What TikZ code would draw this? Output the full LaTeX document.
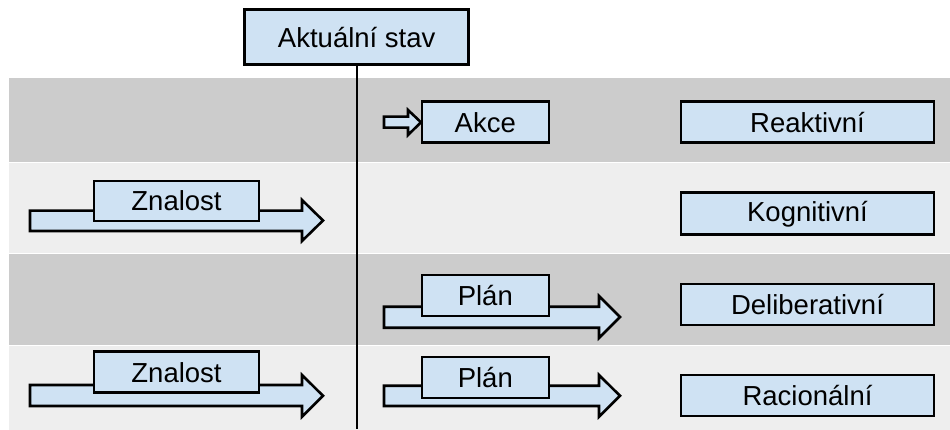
\documentclass[tikz,border=0pt]{standalone}
\usepackage{fontspec}
\setmainfont{Liberation Sans}
\definecolor{bandgray}{HTML}{CCCCCC}
\definecolor{bandlight}{HTML}{EEEEEE}
\definecolor{boxblue}{HTML}{CFE2F3}
\begin{document}
\begin{tikzpicture}[x=1pt,y=-1pt,
  lbl/.style={draw=black,line width=2.6pt,fill=boxblue,inner sep=0pt,
    font=\fontsize{27.5}{32}\selectfont,text=black},
  fatarrow/.style={draw=black,line width=2.6pt,fill=boxblue,line join=miter},
  band/.style={draw=white,line width=1pt}]
\useasboundingbox (0,0) rectangle (950,430);
% bands
\filldraw[band,fill=bandgray]  (8,78)  rectangle (951,163);
\filldraw[band,fill=bandlight] (8,163) rectangle (951,254);
\filldraw[band,fill=bandgray]  (8,254) rectangle (951,345);
\filldraw[band,fill=bandlight] (8,345) rectangle (951,431);
% top node and vertical line
\node[lbl,minimum width=224pt,minimum height=55pt] (stav) at (356.7,37.2) {Aktuální stav};
\coordinate (lineend) at (356.7,429);
\draw[line width=2pt] (stav.south) -- (lineend);
% row 1
\draw[fatarrow] (384,116.7) -- (408,116.7) -- (408,110) -- (421,122.3) -- (408,135) -- (408,127.7) -- (384,127.7) -- cycle;
\node[lbl,minimum width=127pt,minimum height=41pt] (akce) at (485.3,122.2) {Akce};
\node[lbl,minimum width=253pt,minimum height=41pt] (reak) at (807.5,122.2) {Reaktivní};
% row 2
\draw[fatarrow] (30,210.7) -- (302,210.7) -- (302,200) -- (323,220.5) -- (302,241) -- (302,231) -- (30,231) -- cycle;
\node[lbl,minimum width=165pt,minimum height=40pt] (zn1) at (176.5,200.9) {Znalost};
\node[lbl,minimum width=253pt,minimum height=42pt] (kogn) at (807.5,213.8) {Kognitivní};
% row 3
\draw[fatarrow] (384,306.7) -- (599,306.7) -- (599,296) -- (620,317) -- (599,338) -- (599,327.7) -- (384,327.7) -- cycle;
\node[lbl,minimum width=127pt,minimum height=41pt] (plan1) at (485.3,295.5) {Plán};
\node[lbl,minimum width=253pt,minimum height=41pt] (delib) at (807.5,304.5) {Deliberativní};
% row 4
\draw[fatarrow] (30,385) -- (302,385) -- (302,375) -- (323,395.8) -- (302,416.7) -- (302,406) -- (30,406) -- cycle;
\node[lbl,minimum width=165pt,minimum height=41pt] (zn2) at (176.5,372.2) {Znalost};
\draw[fatarrow] (384,385.7) -- (599,385.7) -- (599,375) -- (620,395.8) -- (599,416.7) -- (599,406) -- (384,406) -- cycle;
\node[lbl,minimum width=127pt,minimum height=41pt] (plan2) at (485.3,377.5) {Plán};
\node[lbl,minimum width=253pt,minimum height=41pt] (rac) at (807.5,395.5) {Racionální};
\end{tikzpicture}
\end{document}
